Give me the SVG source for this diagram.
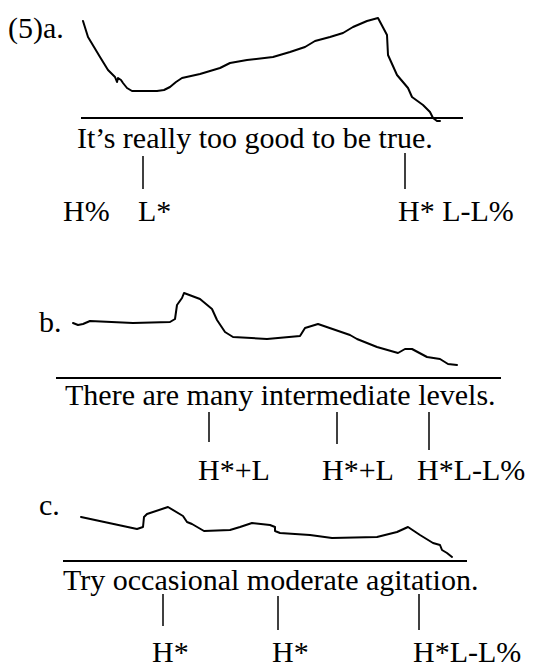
<svg xmlns="http://www.w3.org/2000/svg" width="556" height="666" viewBox="0 0 556 666">
<style>
text{font-family:"Liberation Serif","Times New Roman",serif;font-size:30px;fill:#000}
.c{fill:none;stroke:#000;stroke-width:2;stroke-linejoin:round;stroke-linecap:round}
.b{stroke:#000;stroke-width:2}
.t{stroke:#000;stroke-width:1.5}
</style>
<rect width="556" height="666" fill="#fff"/>
<g id="a">
<text x="8" y="38">(5)a.</text>
<path class="c" d="M83,21 L88,37 L100,57 L108,70 L115,77 L117,82 L118,78 L121,80 L123,83 L127,88 L132,91 L157,91 L164,90 L170,87 L176,82 L182,78 L200,74 L220,68 L230,63 L247,60 L273,57 L290,52 L305,47 L315,41 L330,37 L343,33 L353,27 L367,21 L378,18 L387,35 L388,55 L397,75 L408,88 L412,97 L423,105 L430,112 L433,118 L437,121 L440,121"/>
<line class="b" x1="81" y1="118" x2="463" y2="118"/>
<text x="77" y="148">It’s really too good to be true.</text>
<line class="t" x1="143" y1="156" x2="143" y2="189"/>
<line class="t" x1="405" y1="153" x2="405" y2="189"/>
<text x="63" y="221">H%</text>
<text x="138" y="221">L*</text>
<text x="398" y="221">H* L-L%</text>
</g>
<g id="b">
<text x="39" y="332">b.</text>
<path class="c" d="M73,323 L78,325 L83,324 L90,321 L133,323 L170,322 L175,319 L177,305 L182,298 L184,293 L200,299 L212,309 L217,320 L225,332 L233,337 L267,339 L300,336 L305,328 L318,324 L350,335 L357,339 L377,347 L398,353 L405,349 L412,349 L427,357 L440,359 L448,364 L457,365"/>
<line class="b" x1="56" y1="378" x2="501" y2="378"/>
<text x="65" y="405">There are many intermediate levels.</text>
<line class="t" x1="209" y1="412" x2="209" y2="442"/>
<line class="t" x1="337" y1="412" x2="337" y2="444"/>
<line class="t" x1="429" y1="412" x2="429" y2="450"/>
<text x="198" y="480">H*+L</text>
<text x="322" y="480">H*+L</text>
<text x="417" y="480">H*L-L%</text>
</g>
<g id="c">
<text x="39" y="515">c.</text>
<path class="c" d="M81,517 L137,529 L143,527 L144,517 L147,514 L168,507 L183,516 L187,522 L192,524 L204,531 L230,530 L240,527 L252,523 L270,525 L275,527 L275,531 L280,533 L310,535 L332,538 L377,537 L397,532 L408,527 L420,535 L433,543 L440,545 L442,550 L447,553 L452,557"/>
<line class="b" x1="63" y1="561" x2="467" y2="561"/>
<text x="63" y="590">Try occasional moderate agitation.</text>
<line class="t" x1="163" y1="594" x2="163" y2="626"/>
<line class="t" x1="278" y1="596" x2="278" y2="630"/>
<line class="t" x1="419" y1="594" x2="419" y2="630"/>
<text x="152" y="662">H*</text>
<text x="272" y="662">H*</text>
<text x="413" y="662">H*L-L%</text>
</g>
</svg>
